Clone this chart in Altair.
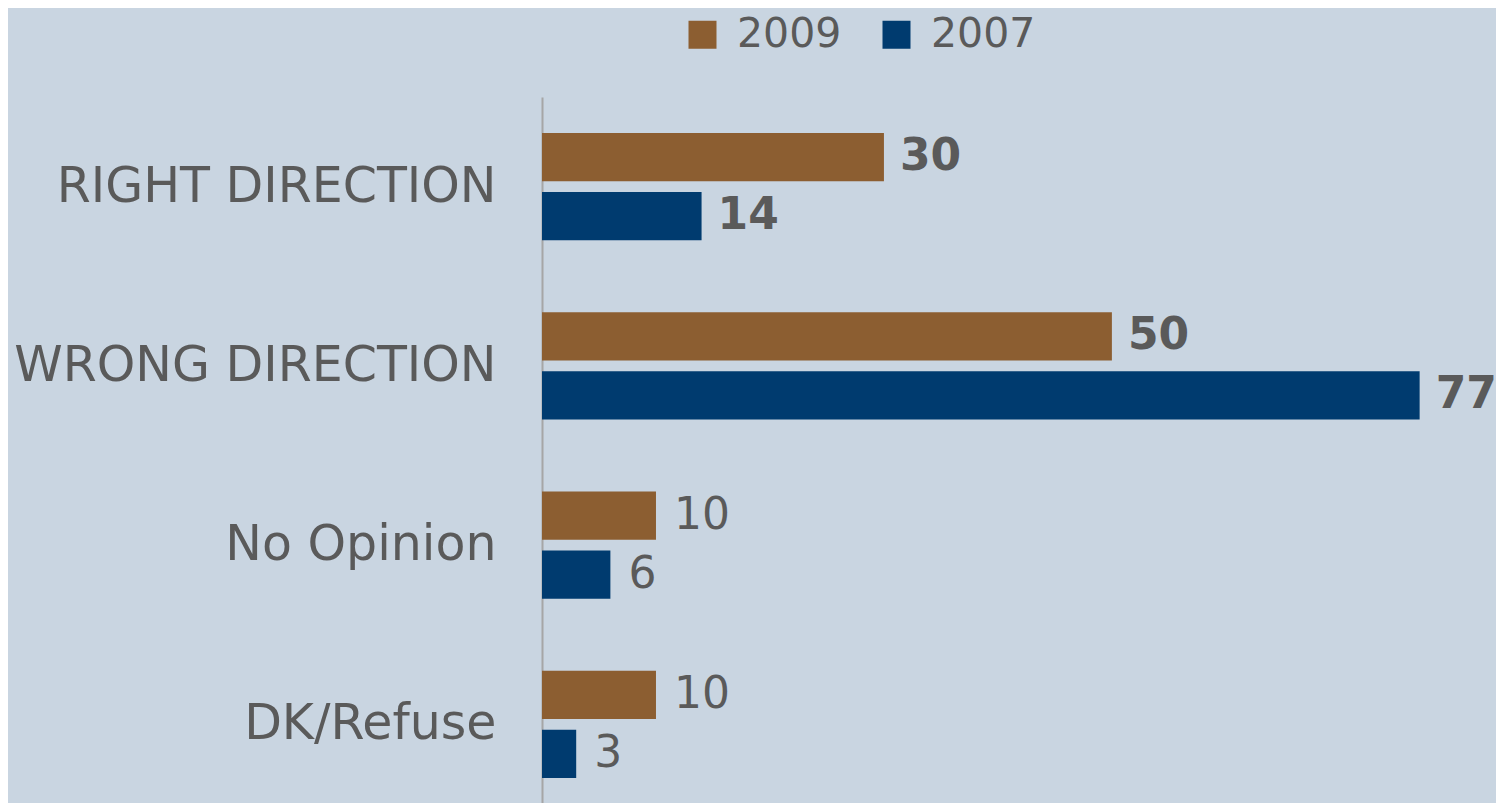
import altair as alt
import pandas as pd

categories = ["RIGHT DIRECTION", "WRONG DIRECTION", "No Opinion", "DK/Refuse"]
years = ["2009", "2007"]
values_2009 = [30, 50, 10, 10]
values_2007 = [14, 77, 6, 3]
bold_categories = ["RIGHT DIRECTION", "WRONG DIRECTION"]
colors = ["#8C5E31", "#003B6F"]

rows = []
for c, v9, v7 in zip(categories, values_2009, values_2007):
    rows.append({"category": c, "year": "2009", "value": v9, "bold": c in bold_categories})
    rows.append({"category": c, "year": "2007", "value": v7, "bold": c in bold_categories})
df = pd.DataFrame(rows)

TEXT = "#5A5A5A"
FONT = "DejaVu Sans"

y_enc = alt.Y(
    "category:N",
    sort=categories,
    scale=alt.Scale(paddingInner=0, paddingOuter=0, range=[0, 717]),
    axis=alt.Axis(
        title=None, ticks=False, labelFontSize=49, labelFont=FONT,
        labelColor=TEXT, labelPadding=46, domainColor="#A6A6A6",
        domainWidth=2, labelLimit=700, grid=False,
    ),
)
yoff_enc = alt.YOffset("year:N", sort=years, scale=alt.Scale(paddingInner=0.186, paddingOuter=0.61))
x_enc = alt.X("value:Q", scale=alt.Scale(domain=[0, 83.7]), axis=None)

base = alt.Chart(df).encode(y=y_enc, yOffset=yoff_enc, x=x_enc)

bars = base.mark_bar().encode(
    color=alt.Color(
        "year:N", sort=years,
        scale=alt.Scale(domain=years, range=colors),
        legend=alt.Legend(
            title=None, orient="none", direction="horizontal",
            legendX=140, legendY=-83,
            symbolType="square", symbolSize=784, symbolStrokeWidth=0,
            labelFontSize=41, labelFont=FONT, labelColor=TEXT,
            labelOffset=14, columnPadding=34, symbolOpacity=1,
        ),
    )
)

bold_text = base.mark_text(
    align="left", baseline="middle", dx=16, fontSize=44, fontWeight="bold",
    font=FONT, color=TEXT,
).encode(text="value:Q").transform_filter("datum.bold")

normal_text = base.mark_text(
    align="left", baseline="middle", dx=18, fontSize=44,
    font=FONT, color=TEXT,
).encode(text="value:Q").transform_filter("!datum.bold")

chart = alt.layer(bars, bold_text, normal_text).properties(
    width=954, height=706,
    autosize=alt.AutoSizeParams(type="none"),
    padding={"left": 534, "top": 89, "right": 0, "bottom": 0},
    background="#C9D5E1",
).configure_view(stroke=None)

chart.save("out.html", embed_options={"renderer": "svg", "actions": False})
